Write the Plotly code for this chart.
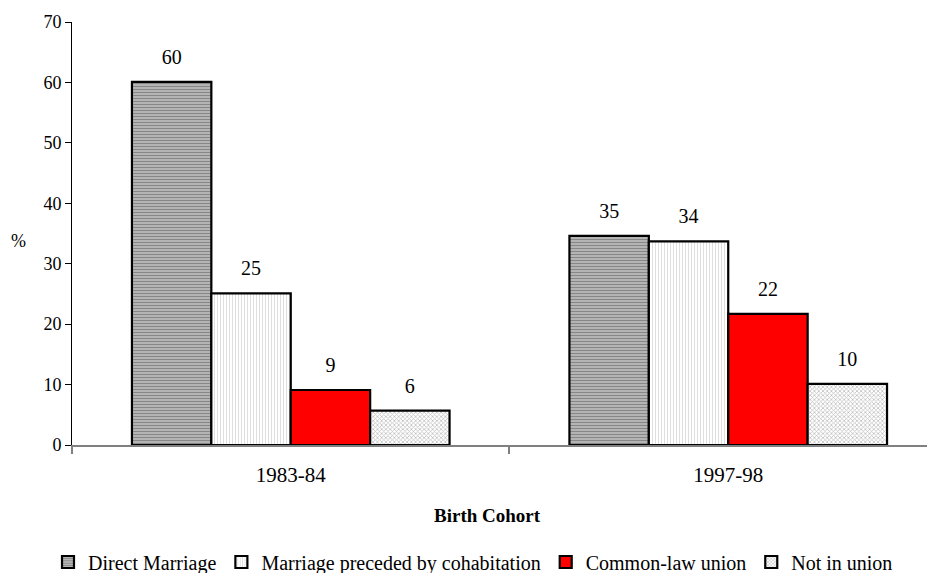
import plotly.graph_objects as go

cohorts = ["1983-84", "1997-98"]
series_names = ["Direct Marriage", "Marriage preceded by cohabitation", "Common-law union", "Not in union"]
direct_marriage = [60.1, 34.6]
marriage_after_cohab = [25.1, 33.7]
common_law = [9.1, 21.7]
not_in_union = [5.7, 10.1]
y_ticks = [0, 10, 20, 30, 40, 50, 60, 70]

FONT = "Liberation Serif"

styles = [
    dict(color="#b4b4b4", pattern=dict(shape="-", fgcolor="#5a5a5a", bgcolor="#b4b4b4", size=3, solidity=0.35)),
    dict(color="white", pattern=dict(shape="|", fgcolor="#bdbdbd", bgcolor="white", size=3, solidity=0.35)),
    dict(color="#ff0000"),
    dict(color="white", pattern=dict(shape="x", fgcolor="#808080", bgcolor="white", size=3, solidity=0.45)),
]

GAP = 0.274
# the page body has an 8px default margin; plot area is placed so it lands where the reference has it
ML, MT, MR = 64, 14, 8
PW, PH = 863, 423

fig = go.Figure()
all_vals = [direct_marriage, marriage_after_cohab, common_law, not_in_union]
for name, vals, st in zip(series_names, all_vals, styles):
    fig.add_trace(go.Bar(
        x=cohorts, y=vals, name=name,
        marker=dict(line=dict(color="black", width=2.2), **st),
        hoverinfo="x+y+name",
    ))
# value labels, aligned with the grouped bars
for name, vals in zip(series_names, all_vals):
    fig.add_trace(go.Scatter(
        x=cohorts, y=vals, mode="markers+text", texttemplate="%{y:.0f}", textposition="top center",
        textfont=dict(family=FONT, size=20, color="black"),
        showlegend=False, hoverinfo="skip", cliponaxis=False, name=name + " label",
        marker=dict(size=19, opacity=0),
    ))

fig.update_layout(
    width=935, height=573,
    margin=dict(l=ML, r=MR, t=MT, b=573 - MT - PH, autoexpand=False),
    paper_bgcolor="white", plot_bgcolor="white",
    barmode="group", bargap=GAP, bargroupgap=0,
    scattermode="group", scattergap=GAP,
    font=dict(family=FONT, color="black"),
    showlegend=True,
    legend=dict(orientation="h", x=(473 - 72) / PW, xanchor="center", y=(445 - 562) / PH, yanchor="middle",
                font=dict(family=FONT, size=20, color="black"),
                itemwidth=30, tracegroupgap=0, traceorder="normal"),
    xaxis=dict(range=[-0.5, 1.4726], showline=True, linecolor="#808080", linewidth=2,
               ticks="outside", tickson="boundaries", ticklen=7, tickcolor="#808080", tickwidth=2,
               tickfont=dict(family=FONT, size=21, color="black"), ticklabelstandoff=10,
               showgrid=False, zeroline=False, automargin=False),
    yaxis=dict(range=[0, 70], tickvals=y_ticks, showline=True, linecolor="black", linewidth=1,
               ticks="outside", ticklen=6, tickcolor="black",
               tickfont=dict(family=FONT, size=18, color="black"),
               showgrid=False, zeroline=False, automargin=False),
    annotations=[
        dict(text="%", xref="paper", yref="paper", x=(18 - 72) / PW, y=(445 - 241) / PH,
             xanchor="center", yanchor="middle",
             showarrow=False, font=dict(family=FONT, size=18, color="black")),
        dict(text="<b>Birth Cohort</b>", xref="paper", yref="paper", x=(487 - 72) / PW, y=(445 - 515) / PH,
             xanchor="center", yanchor="middle",
             showarrow=False, font=dict(family=FONT, size=19, color="black")),
    ],
)

fig.write_html("out.html")
